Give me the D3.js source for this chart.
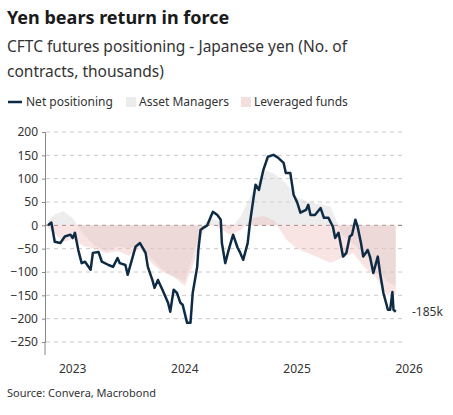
<!DOCTYPE html>
<html><head><meta charset="utf-8">
<script src="https://cdn.jsdelivr.net/npm/d3@7"></script>
<style>body{margin:0;background:#fff}text{font-family:"Noto Sans",sans-serif}</style>
</head><body>
<svg width="453" height="415"></svg>
<script>
// Net positioning (thousands of contracts), time as decimal years
var netT = [2023.28,2023.31,2023.34,2023.39,2023.43,2023.48,2023.50,2023.52,2023.55,2023.58,2023.61,2023.66,2023.68,2023.73,2023.76,2023.82,2023.86,2023.90,2023.92,2023.97,2023.99,2024.01,2024.06,2024.10,2024.15,2024.17,2024.21,2024.23,2024.26,2024.30,2024.35,2024.37,2024.40,2024.43,2024.46,2024.48,2024.52,2024.55,2024.57,2024.61,2024.62,2024.64,2024.66,2024.70,2024.73,2024.75,2024.79,2024.82,2024.83,2024.86,2024.89,2024.93,2024.97,2024.99,2025.02,2025.06,2025.08,2025.11,2025.13,2025.16,2025.20,2025.24,2025.29,2025.33,2025.38,2025.40,2025.44,2025.47,2025.50,2025.53,2025.58,2025.60,2025.62,2025.66,2025.71,2025.74,2025.78,2025.82,2025.84,2025.87,2025.91,2025.94,2025.97,2025.99,2026.02,2026.04,2026.07,2026.09,2026.13,2026.15,2026.18,2026.22,2026.24,2026.27,2026.31,2026.33,2026.35,2026.36,2026.38];
var netV = [0,6,-35,-38,-24,-20,-27,-16,-53,-81,-78,-95,-59,-57,-78,-85,-89,-70,-81,-85,-106,-89,-46,-38,-59,-89,-117,-134,-117,-138,-166,-185,-138,-145,-166,-170,-209,-209,-145,-89,-53,-10,-6,0,18,29,22,12,-38,-81,-53,-20,-48,-57,-74,-38,5,55,87,76,119,147,151,145,134,112,112,65,50,27,33,44,22,22,37,16,16,-3,-27,-16,-67,-59,-24,-20,12,-3,-38,-67,-53,-67,-102,-67,-102,-145,-181,-181,-143,-181,-185];
// Asset managers and leveraged funds (approximate)
var fundT = [2023.28,2023.35,2023.42,2023.50,2023.60,2023.70,2023.80,2023.90,2024.00,2024.10,2024.20,2024.30,2024.40,2024.50,2024.58,2024.65,2024.72,2024.80,2024.90,2025.00,2025.10,2025.20,2025.30,2025.40,2025.50,2025.60,2025.70,2025.80,2025.90,2026.00,2026.10,2026.20,2026.30,2026.38];
var assetV = [10,25,30,15,-20,-45,-55,-45,-50,-40,-70,-95,-110,-120,-60,-5,15,10,-10,20,70,120,110,90,60,50,45,40,-20,-40,-60,-90,-120,-130];
var levV = [-5,-20,-35,-30,-45,-50,-60,-55,-65,-50,-80,-100,-110,-130,-80,-20,5,-5,-20,-10,15,20,10,-30,-50,-60,-70,-80,-70,-60,-90,-110,-150,-150];
var yTicks = [200,150,100,50,0,-50,-100,-150,-200,-250];
var years = [2023,2024,2025,2026];

var svg = d3.select("svg");
var x = d3.scaleLinear().domain([2023.28, 2026.40]).range([48, 398]);
var y = d3.scaleLinear().domain([-250, 200]).range([342, 132]);

svg.append("text").attr("x", 7).attr("y", 24).attr("font-size", 18).attr("font-weight", "bold").attr("fill", "#1a1a1a").text("Yen bears return in force");
svg.append("text").attr("x", 7).attr("y", 52).attr("font-size", 15.5).attr("fill", "#333").text("CFTC futures positioning - Japanese yen (No. of");
svg.append("text").attr("x", 7).attr("y", 77).attr("font-size", 15.5).attr("fill", "#333").text("contracts, thousands)");

// legend
var leg = svg.append("g").attr("font-size", 12).attr("fill", "#333");
leg.append("line").attr("x1", 8).attr("x2", 22).attr("y1", 102).attr("y2", 102).attr("stroke", "#0d2b45").attr("stroke-width", 2.5);
leg.append("text").attr("x", 26).attr("y", 106).text("Net positioning");
leg.append("rect").attr("x", 126).attr("y", 97).attr("width", 10).attr("height", 10).attr("fill", "#ececec");
leg.append("text").attr("x", 139).attr("y", 106).text("Asset Managers");
leg.append("rect").attr("x", 241).attr("y", 97).attr("width", 10).attr("height", 10).attr("fill", "#f5dede");
leg.append("text").attr("x", 254).attr("y", 106).text("Leveraged funds");

// grid
svg.append("g").selectAll("line").data(yTicks).enter().append("line")
  .attr("x1", 46).attr("x2", 402).attr("y1", d => y(d)).attr("y2", d => y(d))
  .attr("stroke", d => d === 0 ? "#8a6a6a" : "#c8c8c8").attr("stroke-dasharray", "4,4");

var area = function(vals) {
  return d3.area().x((d, i) => x(fundT[i])).y0(y(0)).y1(d => y(d))(vals);
};
svg.append("path").attr("d", area(assetV)).attr("fill", "#d6d6d6").attr("opacity", 0.45);
svg.append("path").attr("d", area(levV)).attr("fill", "#efbcbc").attr("opacity", 0.4);

// y axis
var ya = svg.append("g").attr("transform", "translate(45,0)")
  .call(d3.axisLeft(y).tickValues(yTicks).tickSize(3).tickPadding(4));
ya.select(".domain").attr("stroke", "#888");
ya.selectAll(".tick line").attr("stroke", "#888");
ya.selectAll("text").attr("font-size", 12).attr("fill", "#333").style("font-family", "Noto Sans");
svg.append("line").attr("x1", 45).attr("x2", 45).attr("y1", y(-250)).attr("y2", 355).attr("stroke", "#888");

// x labels at mid-year
svg.append("g").selectAll("text").data(years).enter().append("text")
  .attr("x", d => x(d + 0.5)).attr("y", 373).attr("text-anchor", "middle")
  .attr("font-size", 12).attr("fill", "#333").text(d => d);

// net line
svg.append("path").datum(netV)
  .attr("d", d3.line().x((d, i) => x(netT[i])).y(d => y(d)))
  .attr("fill", "none").attr("stroke", "#0d2b45").attr("stroke-width", 2.5).attr("stroke-linejoin", "round");

svg.append("text").attr("x", 412).attr("y", y(netV[netV.length - 1]) + 4).attr("font-size", 12).attr("fill", "#333").text("-185k");
svg.append("text").attr("x", 7).attr("y", 397).attr("font-size", 11).attr("fill", "#333").text("Source: Convera, Macrobond");
</script>
</body></html>
